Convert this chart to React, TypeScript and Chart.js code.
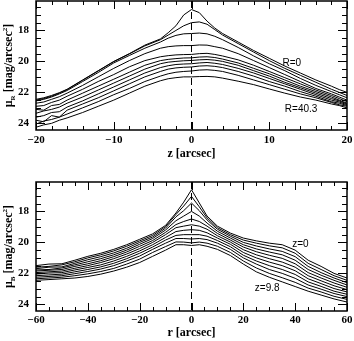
import React, { useEffect, useRef } from 'react';
import { Chart, registerables } from 'chart.js';

Chart.register(...registerables);

// ---------- top panel: mu_R vs z ----------
const topZ = [-20, -19, -18, -17, -16, -14, -12, -10, -8, -6, -4, -3, -2, -1, 0, 1, 2, 3, 4, 6, 8, 10, 12, 14, 16, 18, 19, 20];
const topRadii = ['0', '4.03', '8.06', '12.09', '16.12', '20.15', '24.18', '28.21', '32.24', '36.27', '40.3'];
const topR0 = [22.45, 22.35, 22.2, 22.02, 21.8, 21.2, 20.6, 20.0, 19.5, 18.95, 18.55, 18.15, 17.7, 17.0, 16.65, 16.85, 17.4, 17.85, 18.2, 18.75, 19.3, 19.8, 20.3, 20.75, 21.2, 21.6, 21.82, 22.0];
const topR1 = [22.5, 22.4, 22.25, 22.05, 21.82, 21.22, 20.62, 20.02, 19.52, 19.0, 18.6, 18.3, 18.0, 17.7, 17.5, 17.45, 17.6, 17.95, 18.3, 18.85, 19.4, 19.95, 20.45, 20.9, 21.35, 21.8, 22.0, 22.2];
const topR2 = [22.55, 22.45, 22.3, 22.1, 21.88, 21.3, 20.72, 20.1, 19.62, 19.15, 18.75, 18.5, 18.32, 18.22, 18.2, 18.17, 18.22, 18.38, 18.6, 19.1, 19.65, 20.15, 20.6, 21.1, 21.55, 21.95, 22.15, 22.35];
const topR3 = [22.7, 22.62, 22.45, 22.28, 22.05, 21.55, 21.0, 20.45, 19.95, 19.5, 19.15, 19.05, 19.0, 18.98, 18.98, 18.94, 18.95, 19.05, 19.15, 19.5, 19.95, 20.4, 20.85, 21.3, 21.75, 22.1, 22.3, 22.5];
const topR4 = [22.9, 22.85, 22.65, 22.5, 22.25, 21.8, 21.3, 20.85, 20.35, 19.95, 19.7, 19.63, 19.58, 19.56, 19.55, 19.5, 19.48, 19.55, 19.65, 19.9, 20.25, 20.65, 21.05, 21.45, 21.85, 22.2, 22.4, 22.6];
const topR5 = [23.1, 23.15, 22.85, 22.78, 22.5, 22.05, 21.6, 21.15, 20.7, 20.25, 19.95, 19.87, 19.82, 19.78, 19.77, 19.72, 19.7, 19.75, 19.85, 20.1, 20.45, 20.8, 21.2, 21.6, 21.95, 22.3, 22.5, 22.7];
const topR6 = [23.35, 23.2, 23.1, 22.95, 22.7, 22.3, 21.85, 21.4, 20.95, 20.5, 20.15, 20.05, 20.0, 19.96, 19.94, 19.9, 19.88, 19.92, 20.0, 20.25, 20.6, 20.95, 21.35, 21.7, 22.05, 22.4, 22.55, 22.75];
const topR7 = [23.6, 23.5, 23.3, 23.25, 22.95, 22.55, 22.1, 21.65, 21.2, 20.75, 20.4, 20.28, 20.2, 20.17, 20.15, 20.1, 20.07, 20.12, 20.2, 20.45, 20.75, 21.1, 21.45, 21.8, 22.15, 22.5, 22.62, 22.8];
const topR8 = [23.8, 23.9, 23.5, 23.6, 23.15, 22.75, 22.35, 21.9, 21.45, 21.0, 20.65, 20.5, 20.42, 20.38, 20.36, 20.3, 20.28, 20.32, 20.4, 20.65, 20.95, 21.3, 21.6, 21.95, 22.25, 22.6, 22.7, 22.85];
const topR9 = [24.05, 23.85, 23.75, 23.6, 23.4, 23.0, 22.6, 22.15, 21.75, 21.3, 20.95, 20.8, 20.7, 20.65, 20.62, 20.56, 20.54, 20.58, 20.65, 20.9, 21.2, 21.5, 21.8, 22.1, 22.35, 22.65, 22.8, 22.9];
const topR10 = [24.25, 24.1, 24.0, 23.8, 23.65, 23.3, 22.9, 22.5, 22.05, 21.6, 21.25, 21.12, 21.05, 21.0, 21.0, 20.98, 20.97, 21.0, 21.08, 21.28, 21.5, 21.78, 22.05, 22.3, 22.5, 22.75, 22.85, 23.0];
const topSeries = [topR0, topR1, topR2, topR3, topR4, topR5, topR6, topR7, topR8, topR9, topR10];

const topXMajor = [-20, -10, 0, 10, 20];
const topXMinor = [-18, -16, -14, -12, -8, -6, -4, -2, 2, 4, 6, 8, 12, 14, 16, 18];
const topNoteText = ['R=0', 'R=40.3'];
const topNoteX = [12.9, 14.1];
const topNoteY = [20.1, 23.1];

// ---------- bottom panel: mu_B vs r ----------
const botR = [-60, -55, -50, -45, -40, -35, -30, -25, -20, -15, -10, -6, -3, 0, 3, 6, 10, 15, 20, 25, 30, 35, 40, 45, 50, 55, 60];
const botHeights = ['0', '0.98', '1.96', '2.94', '3.92', '4.9', '5.88', '6.86', '7.84', '8.82', '9.8'];
const botZ0 = [21.5, 21.4, 21.38, 21.15, 20.9, 20.7, 20.45, 20.15, 19.8, 19.45, 18.9, 18.1, 17.4, 16.6, 17.45, 18.3, 18.95, 19.4, 19.72, 19.9, 20.05, 20.15, 20.5, 21.15, 21.55, 22.0, 22.3];
const botZ1 = [21.6, 21.55, 21.45, 21.25, 21.0, 20.8, 20.55, 20.25, 19.9, 19.55, 18.98, 18.2, 17.65, 17.03, 17.7, 18.42, 19.05, 19.5, 19.85, 20.05, 20.22, 20.35, 20.7, 21.35, 21.75, 22.15, 22.45];
const botZ2 = [21.7, 21.6, 21.58, 21.35, 21.12, 20.92, 20.68, 20.38, 20.0, 19.65, 19.08, 18.35, 17.95, 17.46, 17.95, 18.55, 19.15, 19.6, 20.0, 20.23, 20.42, 20.58, 20.92, 21.55, 21.95, 22.3, 22.6];
const botZ3 = [21.78, 21.75, 21.65, 21.45, 21.25, 21.05, 20.8, 20.5, 20.12, 19.75, 19.2, 18.6, 18.3, 18.0, 18.3, 18.75, 19.28, 19.72, 20.15, 20.42, 20.62, 20.8, 21.15, 21.75, 22.12, 22.45, 22.75];
const botZ4 = [21.85, 21.8, 21.75, 21.55, 21.38, 21.18, 20.92, 20.62, 20.25, 19.88, 19.35, 18.85, 18.65, 18.49, 18.65, 18.95, 19.42, 19.85, 20.3, 20.6, 20.83, 21.03, 21.38, 21.95, 22.3, 22.62, 22.9];
const botZ5 = [21.95, 21.9, 21.85, 21.67, 21.5, 21.3, 21.05, 20.75, 20.4, 20.0, 19.5, 19.05, 18.95, 18.86, 18.95, 19.15, 19.57, 19.98, 20.47, 20.8, 21.05, 21.27, 21.6, 22.15, 22.48, 22.8, 23.05];
const botZ6 = [22.05, 21.98, 21.95, 21.78, 21.62, 21.45, 21.2, 20.9, 20.55, 20.15, 19.68, 19.3, 19.22, 19.18, 19.22, 19.38, 19.72, 20.12, 20.65, 21.0, 21.27, 21.5, 21.83, 22.35, 22.66, 22.98, 23.2];
const botZ7 = [22.15, 22.1, 22.05, 21.9, 21.75, 21.58, 21.35, 21.05, 20.7, 20.3, 19.85, 19.55, 19.5, 19.5, 19.5, 19.6, 19.88, 20.28, 20.83, 21.2, 21.5, 21.75, 22.07, 22.55, 22.84, 23.15, 23.35];
const botZ8 = [22.25, 22.2, 22.15, 22.02, 21.88, 21.72, 21.5, 21.2, 20.88, 20.45, 20.05, 19.75, 19.75, 19.78, 19.75, 19.82, 20.05, 20.45, 21.0, 21.4, 21.75, 22.0, 22.32, 22.75, 23.02, 23.3, 23.5];
const botZ9 = [22.35, 22.3, 22.25, 22.15, 22.03, 21.88, 21.68, 21.4, 21.08, 20.65, 20.27, 19.97, 19.98, 20.03, 19.98, 20.05, 20.25, 20.65, 21.2, 21.65, 22.0, 22.28, 22.58, 22.95, 23.2, 23.48, 23.68];
const botZ10 = [22.45, 22.4, 22.35, 22.3, 22.2, 22.05, 21.85, 21.6, 21.3, 20.9, 20.5, 20.15, 20.15, 20.2, 20.15, 20.25, 20.45, 20.85, 21.4, 21.9, 22.25, 22.55, 22.85, 23.15, 23.4, 23.65, 23.85];
const botSeries = [botZ0, botZ1, botZ2, botZ3, botZ4, botZ5, botZ6, botZ7, botZ8, botZ9, botZ10];

const botXMajor = [-60, -40, -20, 0, 20, 40, 60];
const botXMinor = [-55, -50, -45, -35, -30, -25, -15, -10, -5, 5, 10, 15, 25, 30, 35, 45, 50, 55];
const botNoteText = ['z=0', 'z=9.8'];
const botNoteX = [42, 29.2];
const botNoteY = [20.14, 22.94];

// shared y axis
const yMin = 16.1;
const yMax = 24.43;
const yMajor = [18, 20, 22, 24];
const yMinor = [16.5, 17, 17.5, 18.5, 19, 19.5, 20.5, 21, 21.5, 22.5, 23, 23.5];

const SERIF = '"Liberation Serif", "DejaVu Serif", serif';
const SANS = '"Liberation Sans", Arial, sans-serif';

const framePlugin = {
  id: 'frame',
  afterDatasetsDraw(chart: any, _args: any, opts: any) {
    const { ctx, chartArea: a } = chart;
    const x = chart.scales.x;
    const y = chart.scales.y;
    ctx.save();
    ctx.strokeStyle = '#000';
    ctx.lineWidth = 1;
    const xt: [number[], number][] = [[opts.xMinor, 4], [opts.xMajor, 8]];
    for (const [vals, len] of xt) {
      for (const v of vals) {
        const px = Math.round(x.getPixelForValue(v)) + 0.5;
        ctx.beginPath();
        ctx.moveTo(px, a.bottom);
        ctx.lineTo(px, a.bottom - len);
        ctx.moveTo(px, a.top);
        ctx.lineTo(px, a.top + len);
        ctx.stroke();
      }
    }
    const yt: [number[], number][] = [[yMinor, 5], [yMajor, 9]];
    for (const [vals, len] of yt) {
      for (const v of vals) {
        const py = Math.round(y.getPixelForValue(v)) + 0.5;
        ctx.beginPath();
        ctx.moveTo(a.left, py);
        ctx.lineTo(a.left + len, py);
        ctx.moveTo(a.right, py);
        ctx.lineTo(a.right - len, py);
        ctx.stroke();
      }
    }
    ctx.lineWidth = 1.5;
    ctx.strokeRect(a.left, a.top, a.right - a.left, a.bottom - a.top);

    // annotations
    ctx.fillStyle = '#000';
    ctx.font = '10px ' + SANS;
    ctx.textAlign = 'center';
    ctx.textBaseline = 'middle';
    opts.noteText.forEach((t: string, i: number) => {
      ctx.fillText(t, x.getPixelForValue(opts.noteX[i]), y.getPixelForValue(opts.noteY[i]));
    });

    // y title with subscript / superscript
    const parts = [
      { t: '\u03BC', s: 12, dy: 0 },
      { t: opts.sub, s: 7, dy: 3 },
      { t: ' [mag/arcsec', s: 12, dy: 0 },
      { t: '2', s: 7, dy: -5 },
      { t: ']', s: 12, dy: 0 },
    ];
    let total = 0;
    for (const p of parts) {
      ctx.font = 'bold ' + p.s + 'px ' + SERIF;
      total += ctx.measureText(p.t).width;
    }
    ctx.translate(8, (a.top + a.bottom) / 2);
    ctx.rotate(-Math.PI / 2);
    ctx.textAlign = 'left';
    ctx.textBaseline = 'alphabetic';
    let cx = -total / 2;
    for (const p of parts) {
      ctx.font = 'bold ' + p.s + 'px ' + SERIF;
      ctx.fillText(p.t, cx, 4 + p.dy);
      cx += ctx.measureText(p.t).width;
    }
    ctx.restore();
  },
};

function fmt(v: number) {
  return v < 0 ? '\u2212' + Math.abs(v) : String(v);
}

function makeConfig(p: any) {
  const datasets: any[] = p.series.map((ys: number[], i: number) => ({
    label: p.names[i],
    data: p.xs.map((xv: number, j: number) => ({ x: xv, y: ys[j] })),
    borderColor: '#000',
    borderWidth: 1,
    pointRadius: 0,
    tension: 0,
    fill: false,
  }));
  datasets.push({
    label: 'center',
    data: [{ x: 0, y: yMin }, { x: 0, y: yMax }],
    borderColor: '#000',
    borderWidth: 1,
    borderDash: [7, 4],
    pointRadius: 0,
    fill: false,
  });
  return {
    type: 'line',
    data: { datasets },
    plugins: [framePlugin],
    options: {
      animation: false,
      responsive: false,
      events: [],
      layout: { padding: { top: p.padTop, right: 7, left: 0, bottom: 0 } },
      plugins: {
        legend: { display: false },
        tooltip: { enabled: false },
        frame: {
          xMajor: p.xMajor,
          xMinor: p.xMinor,
          noteText: p.noteText,
          noteX: p.noteX,
          noteY: p.noteY,
          sub: p.sub,
        },
      },
      scales: {
        x: {
          type: 'linear',
          min: p.xMin,
          max: p.xMax,
          grid: { display: false, drawTicks: false },
          border: { display: false },
          afterBuildTicks: (s: any) => {
            s.ticks = p.xMajor.map((v: number) => ({ value: v }));
          },
          afterFit: (s: any) => {
            s.height = p.xAxisH;
            s.paddingLeft = 0;
            s.paddingRight = 0;
          },
          ticks: {
            autoSkip: false,
            maxRotation: 0,
            padding: p.tickPad,
            color: '#000',
            font: { family: SERIF, size: 11, weight: 'bold' },
            callback: (v: number) => fmt(v),
          },
          title: {
            display: true,
            text: p.xTitle,
            color: '#000',
            font: { family: SERIF, size: 12, weight: 'bold' },
            padding: { top: 0, bottom: p.titlePad },
          },
        },
        y: {
          type: 'linear',
          min: yMin,
          max: yMax,
          reverse: true,
          grid: { display: false, drawTicks: false },
          border: { display: false },
          afterBuildTicks: (s: any) => {
            s.ticks = yMajor.map((v) => ({ value: v }));
          },
          afterFit: (s: any) => {
            s.width = 36;
            s.paddingTop = 0;
            s.paddingBottom = 0;
          },
          ticks: {
            autoSkip: false,
            padding: 7,
            color: '#000',
            font: { family: SERIF, size: 11, weight: 'bold' },
            callback: (v: number) => fmt(v),
          },
        },
      },
    },
  };
}

export default function App() {
  const topRef = useRef<HTMLCanvasElement>(null);
  const botRef = useRef<HTMLCanvasElement>(null);

  useEffect(() => {
    const c1 = new Chart(topRef.current as any, makeConfig({
      series: topSeries, names: topRadii.map((r) => 'R=' + r), xs: topZ,
      xMin: -20, xMax: 20, xMajor: topXMajor, xMinor: topXMinor,
      noteText: topNoteText, noteX: topNoteX, noteY: topNoteY,
      sub: 'R', xTitle: 'z [arcsec]', padTop: 1, xAxisH: 40, tickPad: 4, titlePad: 9,
    }) as any);
    const c2 = new Chart(botRef.current as any, makeConfig({
      series: botSeries, names: botHeights.map((z) => 'z=' + z), xs: botR,
      xMin: -60, xMax: 60, xMajor: botXMajor, xMinor: botXMinor,
      noteText: botNoteText, noteX: botNoteX, noteY: botNoteY,
      sub: 'B', xTitle: 'r [arcsec]', padTop: 12, xAxisH: 30, tickPad: 3, titlePad: 1,
    }) as any);
    return () => {
      c1.destroy();
      c2.destroy();
    };
  }, []);

  return (
    <div style={{ position: 'fixed', left: 0, top: 0, width: 354, height: 341, background: '#fff' }}>
      <canvas ref={topRef} width={354} height={170} style={{ display: 'block', width: 354, height: 170 }} />
      <canvas ref={botRef} width={354} height={171} style={{ display: 'block', width: 354, height: 171 }} />
    </div>
  );
}
